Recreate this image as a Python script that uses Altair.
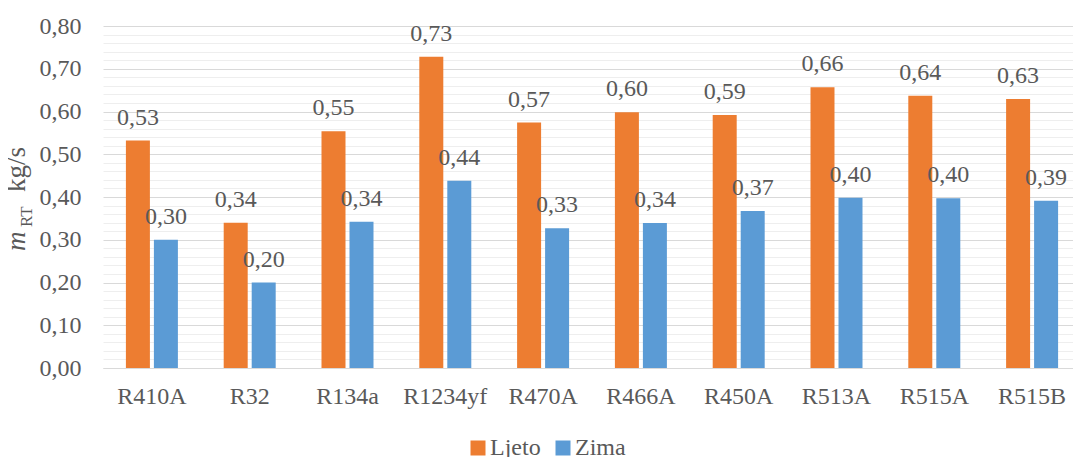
import altair as alt
import pandas as pd

categories = ["R410A", "R32", "R134a", "R1234yf", "R470A", "R466A", "R450A", "R513A", "R515A", "R515B"]
ljeto = [0.532, 0.340, 0.554, 0.728, 0.574, 0.598, 0.592, 0.657, 0.637, 0.629]
zima = [0.300, 0.200, 0.342, 0.438, 0.327, 0.339, 0.367, 0.398, 0.397, 0.391]
series = ["Ljeto", "Zima"]
colors = ["#ED7D31", "#5B9BD5"]
y_tick_values = [round(i * 0.02, 2) for i in range(41)]

FONT = "Liberation Serif, Times New Roman, Tinos, DejaVu Serif, serif"
TXT = "#595959"

df = pd.DataFrame({
    "cat": categories * 2,
    "series": ["Ljeto"] * len(categories) + ["Zima"] * len(categories),
    "value": ljeto + zima,
})

major_test = "abs(datum.value*10 - round(datum.value*10)) < 0.001"

x_enc = alt.X(
    "cat:N", sort=categories,
    scale=alt.Scale(paddingInner=0, paddingOuter=0),
    axis=alt.Axis(title=None, labelAngle=0, labelFontSize=24, labelFont=FONT,
                  labelColor=TXT, ticks=False, tickSize=0, labelPadding=16,
                  domainColor="#D9D9D9", domainWidth=1, grid=False),
)
xo_enc = alt.XOffset("series:N", sort=series,
                     scale=alt.Scale(paddingInner=0.1429, paddingOuter=0.818))
y_enc = alt.Y(
    "value:Q",
    scale=alt.Scale(domain=[0, 0.8], nice=False, zero=True),
    axis=alt.Axis(
        title=None, values=y_tick_values, tickCount=41,
        labelExpr=f"{major_test} ? replace(format(datum.value, '.2f'), '.', ',') : ''",
        labelOverlap=False, labelFontSize=24, labelFont=FONT, labelColor=TXT,
        labelPadding=22, ticks=False, tickSize=0, domain=False,
        grid=True, gridWidth=1,
        gridColor={"condition": {"test": major_test, "value": "#D9D9D9"}, "value": "#EEEEEE"},
    ),
)

base = alt.Chart(df)

bars = base.mark_bar().encode(
    x=x_enc, xOffset=xo_enc, y=y_enc,
    color=alt.Color(
        "series:N", sort=series,
        scale=alt.Scale(domain=series, range=colors),
        legend=alt.Legend(title=None, orient="none", legendX=363, legendY=410,
                          direction="horizontal", symbolType="square", symbolSize=225,
                          symbolStrokeWidth=0, symbolOpacity=1, labelFontSize=24,
                          labelFont=FONT, labelColor=TXT, labelOffset=0,
                          columnPadding=10),
    ),
)

labels = base.transform_calculate(
    label="replace(format(datum.value, '.2f'), '.', ',')"
).mark_text(font=FONT, fontSize=24, color=TXT, baseline="alphabetic", dy=-16).encode(
    x=alt.X("cat:N", sort=categories), xOffset=alt.XOffset("series:N", sort=series),
    y=alt.Y("value:Q"), text="label:N",
)

tdf = pd.DataFrame({"t": [0]})
t_m = alt.Chart(tdf).mark_text(text="m", font=FONT, fontSize=27, fontStyle="italic",
                               color=TXT, angle=270, align="left", baseline="alphabetic"
                               ).encode(x=alt.value(-78), y=alt.value(225))
t_rt = alt.Chart(tdf).mark_text(text="RT", font=FONT, fontSize=17,
                                color=TXT, angle=270, align="left", baseline="alphabetic"
                                ).encode(x=alt.value(-71), y=alt.value(201))
t_kg = alt.Chart(tdf).mark_text(text="kg/s", font=FONT, fontSize=27,
                                color=TXT, angle=270, align="right", baseline="alphabetic"
                                ).encode(x=alt.value(-78), y=alt.value(121))

chart = alt.layer(bars, labels, t_m, t_rt, t_kg).properties(
    width=978, height=342,
    autosize=alt.AutoSizeParams(type="none"),
    padding={"left": 95, "top": 18, "right": -8, "bottom": 89},
    background="white",
).configure_view(stroke=None)

chart.save("out.html", embed_options={"renderer": "svg", "actions": False})
